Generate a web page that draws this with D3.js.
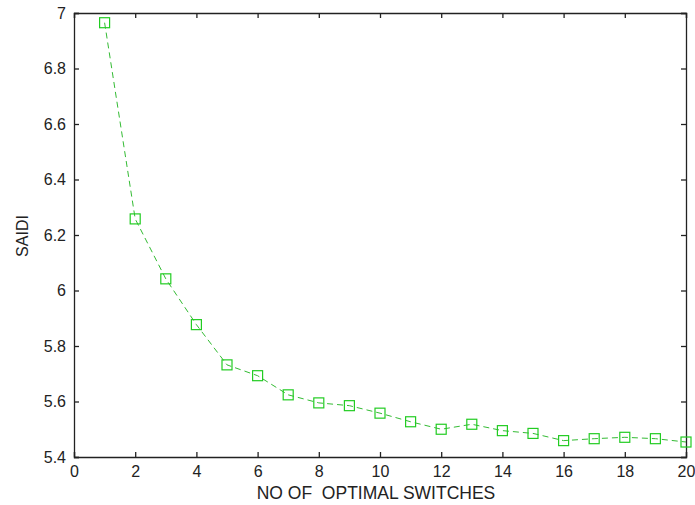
<!DOCTYPE html>
<html>
<head>
<meta charset="utf-8">
<script src="https://cdn.jsdelivr.net/npm/d3@7"></script>
<style>
  body { margin: 0; background: #fff; }
  text { font-family: "Liberation Sans", Arial, sans-serif; fill: #222; }
</style>
</head>
<body>
<div id="chart"></div>
<script>
// Values
const switches = [1, 2, 3, 4, 5, 6, 7, 8, 9, 10, 11, 12, 13, 14, 15, 16, 17, 18, 19, 20];
const saidi = [6.965, 6.258, 6.042, 5.877, 5.732, 5.693, 5.624, 5.595, 5.585, 5.558,
               5.527, 5.500, 5.518, 5.495, 5.485, 5.459, 5.466, 5.471, 5.466, 5.454];
const xTicks = [0, 2, 4, 6, 8, 10, 12, 14, 16, 18, 20];
const yTicks = [5.4, 5.6, 5.8, 6, 6.2, 6.4, 6.6, 6.8, 7];

const W = 695, H = 505;
const margin = { top: 13, right: 9, bottom: 48, left: 74 };

const svg = d3.select("#chart")
    .append("svg")
    .attr("width", W)
    .attr("height", H);

const xScale = d3.scaleLinear()
    .domain([0, 20])
    .range([margin.left, W - margin.right]);

const yScale = d3.scaleLinear()
    .domain([5.4, 7])
    .range([H - margin.bottom, margin.top]);

const data = switches.map((s, i) => ({ x: s, y: saidi[i] }));

// Axes (ticks inward on all four sides, like matlab)
const fmt = d => String(+d.toFixed(1));

svg.append("g")
    .attr("transform", `translate(0,${yScale(5.4)})`)
    .call(d3.axisBottom(xScale).tickValues(xTicks).tickSize(-5).tickPadding(9).tickFormat(d3.format("d")))
    .call(g => g.selectAll("text").attr("font-size", 16));

svg.append("g")
    .attr("transform", `translate(0,${yScale(7)})`)
    .call(d3.axisTop(xScale).tickValues(xTicks).tickSize(-5).tickFormat(""));

svg.append("g")
    .attr("transform", `translate(${xScale(0)},0)`)
    .call(d3.axisLeft(yScale).tickValues(yTicks).tickSize(-5).tickPadding(8).tickFormat(fmt))
    .call(g => g.selectAll("text").attr("font-size", 16));

svg.append("g")
    .attr("transform", `translate(${xScale(20)},0)`)
    .call(d3.axisRight(yScale).tickValues(yTicks).tickSize(-5).tickFormat(""));

svg.selectAll(".domain").attr("stroke", "#222").attr("stroke-width", 1.3);
svg.selectAll(".tick line").attr("stroke", "#222").attr("stroke-width", 1.3);

// Line
const line = d3.line()
    .x(d => xScale(d.x))
    .y(d => yScale(d.y));

svg.append("path")
    .datum(data)
    .attr("fill", "none")
    .attr("stroke", "#33bb33")
    .attr("stroke-width", 1)
    .attr("stroke-dasharray", "6,4")
    .attr("d", line);

// Square markers
const s = 10;
svg.selectAll(".marker")
    .data(data)
    .enter()
    .append("rect")
    .attr("class", "marker")
    .attr("x", d => xScale(d.x) - s / 2)
    .attr("y", d => yScale(d.y) - s / 2)
    .attr("width", s)
    .attr("height", s)
    .attr("fill", "none")
    .attr("stroke", "#22cc22")
    .attr("stroke-width", 1.2);

// Labels
svg.append("text")
    .attr("x", 376)
    .attr("y", 499)
    .attr("text-anchor", "middle")
    .attr("font-size", 17.5)
    .attr("xml:space", "preserve")
    .text("NO OF  OPTIMAL SWITCHES");

svg.append("text")
    .attr("transform", `translate(28,236) rotate(-90)`)
    .attr("text-anchor", "middle")
    .attr("font-size", 16)
    .text("SAIDI");
</script>
</body>
</html>
